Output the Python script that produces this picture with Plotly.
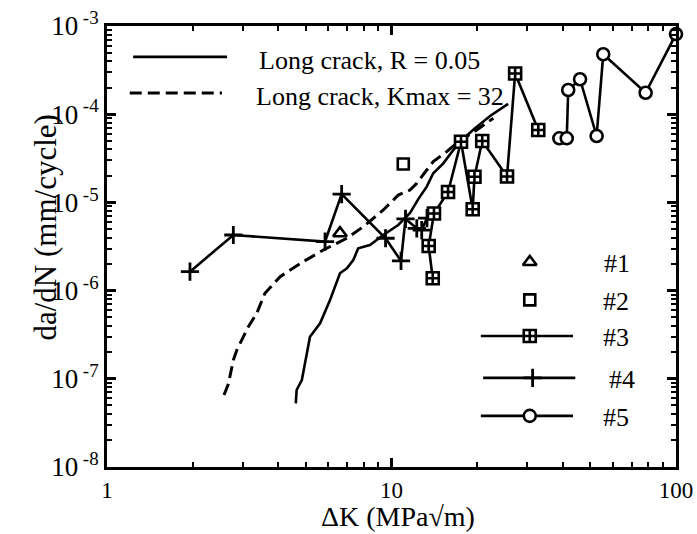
import plotly.graph_objects as go

# ---------------- data ----------------
K_long_R = [4.61, 4.64, 4.84, 5.17, 5.61, 6.08, 6.59, 6.97, 7.34, 7.64, 8.40, 9.36,
            10.56, 11.62, 12.42, 13.30, 14.02, 15.21, 16.49, 17.41, 19.34, 22.2, 25.7]
v_long_R = [5.27e-8, 7.46e-8, 9.68e-8, 3.0e-7, 4.25e-7, 7.8e-7, 1.57e-6, 1.79e-6, 2.22e-6,
            3.02e-6, 3.29e-6, 4.27e-6, 5.54e-6, 7.59e-6, 1.09e-5, 1.51e-5, 2.14e-5, 2.77e-5,
            3.92e-5, 4.88e-5, 6.62e-5, 9.55e-5, 1.31e-4]

K_long_Kmax = [2.578, 2.67, 2.78, 2.86, 3.14, 3.36, 3.59, 4.06, 4.90, 5.76, 6.96, 7.96,
               9.36, 10.56, 11.62, 12.27, 13.30, 14.02, 15.63, 17.18, 19.93, 22.80]
v_long_Kmax = [6.55e-8, 8.73e-8, 1.63e-7, 2.12e-7, 3.90e-7, 5.53e-7, 9.31e-7, 1.44e-6,
               2.13e-6, 2.89e-6, 3.92e-6, 5.30e-6, 8.20e-6, 1.21e-5, 1.38e-5, 1.65e-5,
               2.33e-5, 2.90e-5, 3.76e-5, 4.88e-5, 6.62e-5, 9.0e-5]

K_s1 = [6.59]
v_s1 = [4.47e-6]

K_s2 = [11.0]
v_s2 = [2.72e-5]

K_s3 = [13.96, 13.51, 14.10, 15.80, 17.55, 19.29, 19.57, 20.84, 25.47, 27.2, 32.8]
v_s3 = [1.38e-6, 3.21e-6, 7.48e-6, 1.31e-5, 4.87e-5, 8.36e-6, 1.95e-5, 4.97e-5,
        1.97e-5, 2.89e-4, 6.62e-5]

K_s4 = [1.957, 2.78, 5.84, 6.68, 9.53, 10.80, 11.20, 12.27, 12.77, 13.33]
v_s4 = [1.64e-6, 4.27e-6, 3.6e-6, 1.24e-5, 3.92e-6, 2.17e-6, 6.49e-6, 5.08e-6,
        4.86e-6, 6.65e-6]

K_s5 = [38.9, 41.3, 41.8, 46.0, 52.6, 55.5, 78.2, 100]
v_s5 = [5.33e-5, 5.33e-5, 1.88e-4, 2.49e-4, 5.66e-5, 4.78e-4, 1.75e-4, 8.1e-4]

series_names = ["#1", "#2", "#3", "#4", "#5"]
long_names = ["Long crack, R = 0.05", "Long crack, Kmax = 32"]

x_tick_vals = [1, 10, 100]
x_tick_text = ["1", "10", "100"]
y_exps = [-8, -7, -6, -5, -4, -3]

# ---------------- styles ----------------
FONT = "Liberation Serif, Times New Roman, serif"
BLK = "black"
LW = 2.6
DASH = "12px,6px"

sym = {
    "#1": dict(symbol="triangle-up-open", size=12, color=BLK, line=dict(color=BLK, width=2.6)),
    "#2": dict(symbol="square-open", size=11, color=BLK, line=dict(color=BLK, width=2.6)),
    "#3": dict(symbol="square-cross", size=12, color="white", line=dict(color=BLK, width=2.6)),
    "#4": dict(symbol="cross-thin-open", size=13, color=BLK, line=dict(color=BLK, width=2.8)),
    "#5": dict(symbol="circle", size=12, color="white", line=dict(color=BLK, width=2.6)),
}

fig = go.Figure()

fig.add_trace(go.Scatter(x=K_long_R, y=v_long_R, mode="lines",
                         line=dict(color=BLK, width=LW), showlegend=False))
fig.add_trace(go.Scatter(x=K_long_Kmax, y=v_long_Kmax, mode="lines",
                         line=dict(color=BLK, width=3, dash=DASH), showlegend=False))

fig.add_trace(go.Scatter(x=K_s4, y=v_s4, mode="lines+markers", line=dict(color=BLK, width=LW),
                         marker=sym["#4"], showlegend=False, cliponaxis=False))
fig.add_trace(go.Scatter(x=K_s3, y=v_s3, mode="lines+markers", line=dict(color=BLK, width=LW),
                         marker=sym["#3"], showlegend=False, cliponaxis=False))
fig.add_trace(go.Scatter(x=K_s5, y=v_s5, mode="lines+markers", line=dict(color=BLK, width=LW),
                         marker=sym["#5"], showlegend=False, cliponaxis=False))
fig.add_trace(go.Scatter(x=K_s1, y=v_s1, mode="markers", marker=sym["#1"], showlegend=False))
fig.add_trace(go.Scatter(x=K_s2, y=v_s2, mode="markers", marker=sym["#2"], showlegend=False))

# ---------------- hand-made legend on an overlay (0..1) axis ----------------
fig.add_trace(go.Scatter(x=[0.046, 0.211], y=[0.930, 0.930], mode="lines",
                         line=dict(color=BLK, width=LW), xaxis="x2", yaxis="y2", showlegend=False))
fig.add_trace(go.Scatter(x=[0.040, 0.202], y=[0.848, 0.848], mode="lines",
                         line=dict(color=BLK, width=3, dash=DASH),
                         xaxis="x2", yaxis="y2", showlegend=False))
leg_y = {"#1": 0.465, "#2": 0.379, "#3": 0.297, "#4": 0.202, "#5": 0.116}
leg_mx = {"#1": 0.743, "#2": 0.743, "#3": 0.743, "#4": 0.748, "#5": 0.743}
leg_line = {"#3": (0.657, 0.819), "#4": (0.661, 0.823), "#5": (0.657, 0.819)}
for name in series_names:
    if name in leg_line:
        x0, x1 = leg_line[name]
        fig.add_trace(go.Scatter(x=[x0, x1], y=[leg_y[name]] * 2, mode="lines",
                                 line=dict(color=BLK, width=LW), xaxis="x2", yaxis="y2",
                                 showlegend=False))
    fig.add_trace(go.Scatter(x=[leg_mx[name]], y=[leg_y[name]], mode="markers",
                             marker=sym[name], xaxis="x2", yaxis="y2", showlegend=False))

annotations = [
    dict(x=0.263, y=0.922, text=long_names[0]),
    dict(x=0.258, y=0.840, text=long_names[1]),
]
leg_tx = {"#1": 0.870, "#2": 0.868, "#3": 0.868, "#4": 0.878, "#5": 0.868}
for name in series_names:
    annotations.append(dict(x=leg_tx[name], y=leg_y[name] - 0.004, text=name))
for a in annotations:
    a.update(xref="paper", yref="paper", xanchor="left", yanchor="middle", showarrow=False,
             font=dict(family=FONT, size=26, color=BLK))

annotations.append(dict(x=0.511, y=-0.112, xref="paper", yref="paper", xanchor="center",
                        yanchor="middle", showarrow=False, text="ΔK (MPa√m)",
                        font=dict(family=FONT, size=28, color=BLK)))
annotations.append(dict(x=-0.108, y=0.542, xref="paper", yref="paper", xanchor="center",
                        yanchor="middle", showarrow=False, textangle=-90,
                        text="da/dN (mm/cycle)", font=dict(family=FONT, size=31, color=BLK)))

minor_x = [m * 10 ** k for k in range(0, 2) for m in range(2, 10)]
minor_y = [m * 10.0 ** k for k in range(-8, -3) for m in range(2, 10)]

axis_common = dict(showline=True, linecolor=BLK, linewidth=3, mirror="ticks",
                   ticks="inside", ticklen=9, tickwidth=2.5, tickcolor=BLK,
                   showgrid=False, zeroline=False, automargin=False)

fig.update_layout(
    width=697, height=534,
    margin=dict(l=107, r=21, t=26, b=67, autoexpand=False),
    paper_bgcolor="white", plot_bgcolor="white",
    font=dict(family=FONT, color=BLK),
    xaxis=dict(type="log", range=[0, 2], tickmode="array", tickvals=x_tick_vals,
               ticktext=x_tick_text, tickfont=dict(family=FONT, size=23, color=BLK),
               minor=dict(tickmode="array", tickvals=minor_x, ticks="inside", ticklen=5,
                          tickwidth=2, tickcolor=BLK),
               **axis_common),
    yaxis=dict(type="log", range=[-8, -3], tickmode="array",
               tickvals=[10.0 ** e for e in y_exps],
               ticktext=["10<sup> %d</sup>" % e for e in y_exps],
               tickfont=dict(family=FONT, size=27, color=BLK),
               minor=dict(tickmode="array", tickvals=minor_y, ticks="inside", ticklen=5,
                          tickwidth=2, tickcolor=BLK),
               **axis_common),
    xaxis2=dict(overlaying="x", range=[0, 1], visible=False, fixedrange=True),
    yaxis2=dict(overlaying="y", range=[0, 1], visible=False, fixedrange=True),
    annotations=annotations,
    showlegend=False,
)

fig.write_html("out.html", config={"displayModeBar": False},
               post_script="document.body.style.margin='0px';document.body.style.overflow='hidden';")
